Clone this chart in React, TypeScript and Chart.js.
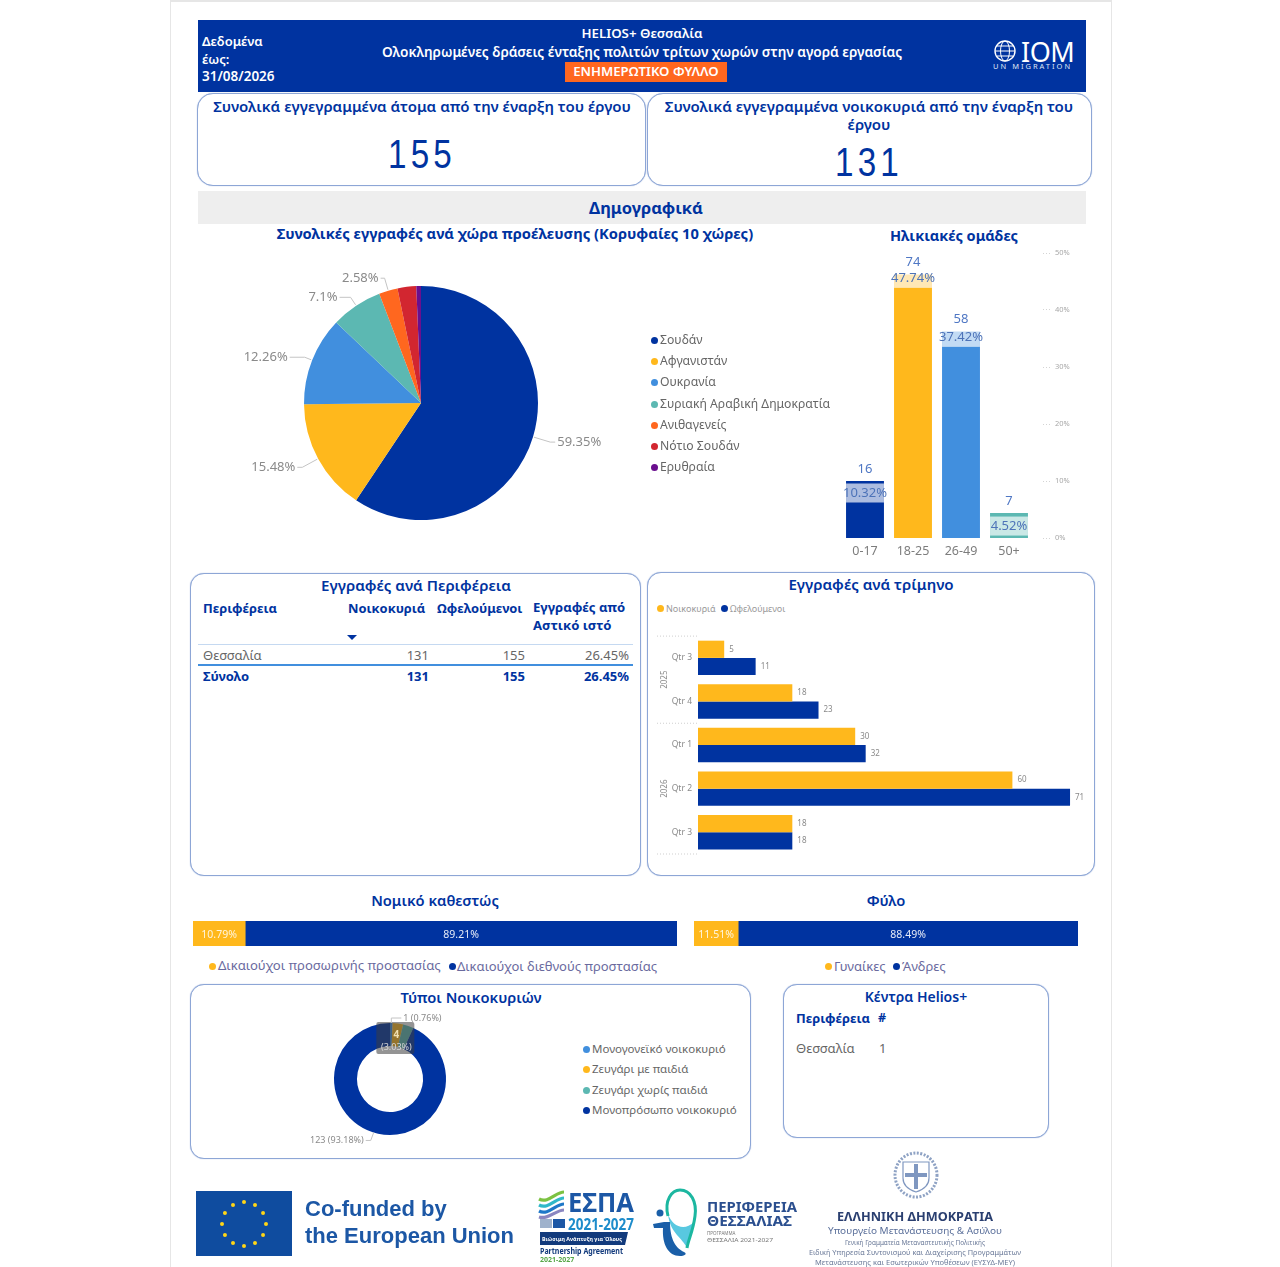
import React, { useEffect, useRef } from "react";
import { Chart, registerables } from "chart.js";
Chart.register(...registerables);

const NAVY = "#0033a0";
const YELLOW = "#ffb81c";
const BLUE = "#418fde";
const TEAL = "#5cb8b2";
const ORANGE = "#ff671f";
const FONT = '"Noto Sans", "Open Sans", sans-serif';

// ---- data ----
const countries = ["Σουδάν", "Αφγανιστάν", "Ουκρανία", "Συριακή Αραβική Δημοκρατία", "Ανιθαγενείς", "Νότιο Σουδάν", "Ερυθραία"];
const countryCounts = [92, 24, 19, 11, 4, 4, 1];
const countryLabels = ["59.35%", "15.48%", "12.26%", "7.1%", "2.58%", "", ""];
const countryColors = [NAVY, YELLOW, BLUE, TEAL, ORANGE, "#d22630", "#6a0f8e"];

const ageGroups = ["0-17", "18-25", "26-49", "50+"];
const ageCounts = [16, 74, 58, 7];
const agePercents = ["10.32%", "47.74%", "37.42%", "4.52%"];
const ageColors = [NAVY, YELLOW, BLUE, TEAL];

const quarters = ["Qtr 3", "Qtr 4", "Qtr 1", "Qtr 2", "Qtr 3"];
const households = [5, 18, 30, 60, 18];
const beneficiaries = [11, 23, 32, 71, 18];
const yearGroups = [
  { year: "2025", from: 0, to: 1 },
  { year: "2026", from: 2, to: 4 },
];

const legalNames = ["Δικαιούχοι προσωρινής προστασίας", "Δικαιούχοι διεθνούς προστασίας"];
const legalValues = [10.79, 89.21];
const genderNames = ["Γυναίκες", "Άνδρες"];
const genderValues = [11.51, 88.49];

const householdTypes = ["Μονογονεϊκό νοικοκυριό", "Ζευγάρι με παιδιά", "Ζευγάρι χωρίς παιδιά", "Μονοπρόσωπο νοικοκυριό"];
const householdTypeCounts = [1, 4, 4, 123];
const householdTypeColors = [BLUE, YELLOW, TEAL, NAVY];

const regionRow = ["Θεσσαλία", "131", "155", "26.45%"];
const totalRow = ["Σύνολο", "131", "155", "26.45%"];

// ---- plugins ----
const PIE_ELBOW = [18, 18, 8, 10, 13];
const PIE_RUN = [5, 5, 15, 11, 4];
const pieLabels = {
  id: "pieLabels",
  afterDraw(chart: any) {
    const { ctx } = chart;
    const arcs = chart.getDatasetMeta(0).data;
    ctx.save();
    ctx.font = `13px ${FONT}`;
    ctx.textBaseline = "middle";
    arcs.forEach((a: any, i: number) => {
      const txt = countryLabels[i];
      if (!txt) return;
      const mid = (a.startAngle + a.endAngle) / 2;
      const cos = Math.cos(mid), sin = Math.sin(mid);
      const r1 = a.outerRadius + 1, r2 = a.outerRadius + PIE_ELBOW[i];
      const x2 = a.x + cos * r2, y2 = a.y + sin * r2;
      const right = cos > 0;
      const x3 = x2 + (right ? PIE_RUN[i] : -PIE_RUN[i]);
      ctx.strokeStyle = "#c4c4c4";
      ctx.lineWidth = 1;
      ctx.beginPath();
      ctx.moveTo(a.x + cos * r1, a.y + sin * r1);
      ctx.lineTo(x2, y2);
      ctx.lineTo(x3, y2);
      ctx.stroke();
      ctx.fillStyle = "#8a8a8a";
      ctx.textAlign = right ? "left" : "right";
      ctx.fillText(txt, x3 + (right ? 2 : -2), y2);
    });
    ctx.restore();
  },
};

const PCT_OFFSET = [12, 4, 6, 13];
const ageLabels = {
  id: "ageLabels",
  afterDatasetsDraw(chart: any) {
    const { ctx } = chart;
    ctx.save();
    ctx.textAlign = "center";
    ctx.textBaseline = "middle";
    chart.getDatasetMeta(0).data.forEach((b: any, i: number) => {
      const cy = b.y + PCT_OFFSET[i];
      const w = b.width;
      ctx.fillStyle = "rgba(255,255,255,0.68)";
      ctx.fillRect(b.x - w / 2, cy - 9.5, w, 19);
      ctx.font = `13px ${FONT}`;
      ctx.fillStyle = "#4d73b8";
      ctx.fillText(agePercents[i], b.x, cy);
      ctx.fillStyle = "#4f77c4";
      ctx.fillText(String(ageCounts[i]), b.x, b.y - 12);
    });
    ctx.restore();
  },
};

const quarterLabels = {
  id: "quarterLabels",
  afterDraw(chart: any) {
    const { ctx, scales } = chart;
    const y = scales.y;
    ctx.save();
    ctx.font = `8px ${FONT}`;
    ctx.textBaseline = "middle";
    ctx.textAlign = "left";
    ctx.fillStyle = "#8a8a8a";
    [0, 1].forEach((d) => {
      const ds = chart.data.datasets[d];
      chart.getDatasetMeta(d).data.forEach((b: any, i: number) => {
        ctx.fillText(String(ds.data[i]), b.x + 5, b.y);
      });
    });
    const half = (y.getPixelForValue(1) - y.getPixelForValue(0)) / 2;
    ctx.strokeStyle = "#cfcfcf";
    ctx.setLineDash([1, 2]);
    const left = chart.chartArea.left;
    const edge = (yy: number) => {
      ctx.beginPath();
      ctx.moveTo(left - 41, yy);
      ctx.lineTo(left, yy);
      ctx.stroke();
    };
    edge(y.getPixelForValue(0) - half);
    yearGroups.forEach((g) => {
      edge(y.getPixelForValue(g.to) + half);
      const cy = (y.getPixelForValue(g.from) + y.getPixelForValue(g.to)) / 2;
      ctx.save();
      ctx.translate(left - 33, cy);
      ctx.rotate(-Math.PI / 2);
      ctx.textAlign = "center";
      ctx.fillStyle = "#8a8a8a";
      ctx.fillText(g.year, 0, 0);
      ctx.restore();
    });
    ctx.restore();
  },
};

const stackLabels = {
  id: "stackLabels",
  afterDatasetsDraw(chart: any) {
    const { ctx } = chart;
    ctx.save();
    ctx.font = `10.5px ${FONT}`;
    ctx.textAlign = "center";
    ctx.textBaseline = "middle";
    chart.data.datasets.forEach((ds: any, d: number) => {
      const b = chart.getDatasetMeta(d).data[0];
      ctx.fillStyle = d === 0 ? "rgba(255,255,255,0.85)" : "#e6ecf7";
      ctx.fillText(ds.data[0].toFixed(2) + "%", (b.base + b.x) / 2, b.y + 1.5);
    });
    ctx.restore();
  },
};

const donutLabels = {
  id: "donutLabels",
  afterDraw(chart: any) {
    const { ctx } = chart;
    const arcs = chart.getDatasetMeta(0).data;
    const total = householdTypeCounts.reduce((a, b) => a + b, 0);
    const pct = (v: number) => ((v / total) * 100).toFixed(2) + "%";
    ctx.save();
    ctx.textBaseline = "middle";
    // dark label over the two small slices
    const a = arcs[1];
    const mid = (a.startAngle + a.endAngle) / 2;
    const rr = (a.innerRadius + a.outerRadius) / 2;
    const cx = a.x + Math.cos(mid) * rr;
    const cy = a.y + Math.sin(mid) * rr;
    ctx.save();
    ctx.beginPath();
    ctx.roundRect(cx - 20, cy - 13, 38, 32, 2);
    ctx.fillStyle = "rgba(60,60,60,0.55)";
    ctx.fill();
    ctx.restore();
    ctx.textAlign = "center";
    ctx.font = `bold 10px ${FONT}`;
    ctx.fillStyle = "#f0e0b0";
    ctx.fillText(String(householdTypeCounts[1]), cx, cy);
    ctx.font = `9px ${FONT}`;
    ctx.fillStyle = "#d8d8d8";
    ctx.fillText(`(${pct(householdTypeCounts[1])})`, cx, cy + 13);
    // outside labels
    ctx.font = `9px ${FONT}`;
    ctx.fillStyle = "#8a8a8a";
    ctx.strokeStyle = "#c4c4c4";
    const first = arcs[0];
    const fm = (first.startAngle + first.endAngle) / 2;
    const fx = first.x + Math.cos(fm) * first.outerRadius;
    const fy = first.y + Math.sin(fm) * first.outerRadius;
    ctx.beginPath();
    ctx.moveTo(fx, fy);
    ctx.lineTo(fx, fy - 5);
    ctx.lineTo(fx + 10, fy - 5);
    ctx.stroke();
    ctx.textAlign = "left";
    ctx.fillText(`${householdTypeCounts[0]} (${pct(householdTypeCounts[0])})`, fx + 12, fy - 5);
    const last = arcs[3];
    const lm = last.startAngle + (last.endAngle - last.startAngle) * 0.54;
    const lx = last.x + Math.cos(lm) * last.outerRadius;
    const ly = last.y + Math.sin(lm) * last.outerRadius;
    ctx.beginPath();
    ctx.moveTo(lx + 8, ly + 3);
    ctx.lineTo(lx + 5, ly + 11);
    ctx.lineTo(lx, ly + 11);
    ctx.stroke();
    ctx.textAlign = "right";
    ctx.fillText(`${householdTypeCounts[3]} (${pct(householdTypeCounts[3])})`, lx - 2, ly + 11);
    ctx.restore();
  },
};

// ---- chart configs ----
const base = { responsive: false, animation: false as const, devicePixelRatio: 1 };
const quiet = { legend: { display: false }, tooltip: { enabled: false }, title: { display: false } };

const pieConfig = {
  type: "pie",
  data: { labels: countries, datasets: [{ data: countryCounts, backgroundColor: countryColors, borderWidth: 0 }] },
  options: { ...base, plugins: quiet, layout: { padding: { top: 41, bottom: 41 } } },
  plugins: [pieLabels],
};

const ageConfig = {
  type: "bar",
  data: {
    labels: ageGroups,
    datasets: [{ data: ageCounts, backgroundColor: ageColors, barPercentage: 0.79, categoryPercentage: 1, yAxisID: "y" }],
  },
  options: {
    ...base,
    plugins: quiet,
    layout: { padding: { left: 6, top: 8, right: 0, bottom: 0 } },
    scales: {
      x: {
        grid: { display: false, drawTicks: false },
        border: { display: false },
        ticks: { color: "#7d7d7d", font: { size: 12.5, family: FONT }, padding: 6, maxRotation: 0 },
        afterFit(s: any) { s.height = 27; },
      },
      y: { display: false, min: 0, max: 80 },
      pct: {
        position: "right",
        min: 0,
        max: 50,
        border: { display: false },
        grid: { drawOnChartArea: false, drawTicks: true, tickLength: 20, tickColor: "#d4d4d4", tickBorderDash: [0, 10, 1, 2, 1, 2, 1, 50] },
        ticks: { stepSize: 10, padding: 2, color: "#a8a8a8", font: { size: 7.5, family: FONT }, callback: (v: any) => v + "%" },
        afterFit(s: any) { s.width = 52; },
      },
    },
  },
  plugins: [ageLabels],
};

const quarterConfig = {
  type: "bar",
  data: {
    labels: quarters,
    datasets: [
      { label: "Νοικοκυριά", data: households, backgroundColor: YELLOW, barPercentage: 1, categoryPercentage: 0.79 },
      { label: "Ωφελούμενοι", data: beneficiaries, backgroundColor: NAVY, barPercentage: 1, categoryPercentage: 0.79 },
    ],
  },
  options: {
    ...base,
    indexAxis: "y",
    plugins: quiet,
    layout: { padding: { top: 11, bottom: 16, left: 0, right: 0 } },
    scales: {
      x: { display: false, min: 0, max: 75 },
      y: {
        grid: { display: false, drawTicks: false },
        border: { display: false },
        ticks: { color: "#8a8a8a", font: { size: 8.5, family: FONT }, padding: 6 },
        afterFit(s: any) { s.width = 48; },
      },
    },
  },
  plugins: [quarterLabels],
};

const stackConfig = (names: string[], values: number[]) => ({
  type: "bar",
  data: {
    labels: [""],
    datasets: [
      { label: names[0], data: [values[0]], backgroundColor: YELLOW, barPercentage: 1, categoryPercentage: 1 },
      { label: names[1], data: [values[1]], backgroundColor: NAVY, barPercentage: 1, categoryPercentage: 1 },
    ],
  },
  options: {
    ...base,
    indexAxis: "y",
    plugins: quiet,
    scales: { x: { display: false, stacked: true, min: 0, max: 100 }, y: { display: false, stacked: true } },
  },
  plugins: [stackLabels],
});

const donutConfig = {
  type: "doughnut",
  data: { labels: householdTypes, datasets: [{ data: householdTypeCounts, backgroundColor: householdTypeColors, borderWidth: 0 }] },
  options: { ...base, cutout: "59%", plugins: quiet, layout: { padding: { top: 19, bottom: 19 } } },
  plugins: [donutLabels],
};

// ---- small pieces ----
function ChartBox({ x, y, w, h, config }: any) {
  const ref = useRef<HTMLCanvasElement>(null);
  useEffect(() => {
    const c = new Chart(ref.current as any, config);
    return () => c.destroy();
  }, []);
  return <canvas ref={ref} width={w} height={h} style={{ position: "absolute", left: x, top: y, width: w, height: h }} />;
}

function T({ x, y, s = 12, c = "#666", b = false, a = "left", children, ls, ff, w, sx }: any) {
  const tr = (a === "center" ? "translate(-50%,-50%)" : a === "right" ? "translate(-100%,-50%)" : "translate(0,-50%)") + (sx ? ` scaleX(${sx})` : "");
  return (
    <div style={{ position: "absolute", left: x, top: y, transform: tr, fontSize: s, color: c, fontWeight: w || (b ? 700 : 400), whiteSpace: "nowrap", lineHeight: 1, letterSpacing: ls, fontFamily: ff || FONT }}>
      {children}
    </div>
  );
}

function Card({ x, y, w, h, r = 14 }: any) {
  return <div style={{ position: "absolute", left: x, top: y, width: w, height: h, boxSizing: "border-box", border: "1px solid #8da6d6", boxShadow: "0 0 1px #8da6d6", borderRadius: r, background: "#fff" }} />;
}

function Dot({ x, y, c, d = 7 }: any) {
  return <div style={{ position: "absolute", left: x - d / 2, top: y - d / 2, width: d, height: d, borderRadius: "50%", background: c }} />;
}

function Legend({ x, ys, names, colors, s = 12, c = "#666" }: any) {
  return (
    <>
      {names.map((n: string, i: number) => (
        <React.Fragment key={n}>
          <Dot x={x} y={ys[i]} c={colors[i]} />
          <T x={x + 6} y={ys[i]} s={s} c={c}>{n}</T>
        </React.Fragment>
      ))}
    </>
  );
}

function Footer() {
  const stars = Array.from({ length: 12 }, (_, i) => {
    const t = (i * Math.PI) / 6;
    return [244 + Math.sin(t) * 22, 1224 - Math.cos(t) * 22];
  });
  return (
    <svg width={1280} height={1267} style={{ position: "absolute", left: 0, top: 0 }} fontFamily={FONT}>
      <rect x={196} y={1191} width={96} height={65} fill="#0f4c9f" />
      {stars.map(([x, y], i) => <circle key={i} cx={x} cy={y} r={2} fill="#ffd617" />)}
      <g fontFamily='"Liberation Sans", Arial, sans-serif' fontWeight={700} fontSize={22} fill="#1c57a5">
        <text x={305} y={1216}>Co-funded by</text>
        <text x={305} y={1243}>the European Union</text>
      </g>

      <g fill="none" strokeWidth={3.2}>
        <path d="M539 1199 C548 1204 556 1192 564 1192" stroke="#7cc242" />
        <path d="M539 1205 C548 1210 556 1198 564 1198" stroke="#2fb8c8" />
        <path d="M539 1211 C548 1216 556 1204 564 1204" stroke="#1f78c8" />
        <path d="M539 1217 C548 1220 556 1210 564 1210" stroke="#8a86c0" />
      </g>
      <text x={568} y={1212} fontSize={27} fontWeight={700} fill="#1c57a5" textLength={66} lengthAdjust="spacingAndGlyphs">ΕΣΠΑ</text>
      <rect x={540} y={1219} width={12} height={9} fill="#9fb2cc" />
      <rect x={553} y={1219} width={12} height={9} fill="#1c57a5" />
      <text x={568} y={1230} fontSize={16} fontWeight={700} fill="#1d8ccb" textLength={66} lengthAdjust="spacingAndGlyphs">2021-2027</text>
      <path d="M540 1232 H628 L625 1245 H540 Z" fill="#123a7c" />
      <text x={542} y={1241} fontSize={6} fontWeight={700} fill="#fff" textLength={80} lengthAdjust="spacingAndGlyphs">Βιώσιμη Ανάπτυξη για Όλους</text>
      <text x={540} y={1254} fontSize={8} fontWeight={700} fill="#123a7c" textLength={83} lengthAdjust="spacingAndGlyphs">Partnership Agreement</text>
      <text x={540} y={1262} fontSize={7} fontWeight={700} fill="#59a84a">2021-2027</text>

      <path d="M668 1214 C672 1226 684 1232 694 1222 C692 1234 688 1240 686 1246 C680 1236 670 1232 668 1214 Z" fill="#58c8e0" />
      <path d="M668 1216 C664 1200 672 1190 680 1190 C691 1190 697 1202 695 1216 C693 1232 688 1240 687 1248" fill="none" stroke="#1cb7a0" strokeWidth={3} />
      <path d="M664 1222 H670 C670 1240 676 1248 684 1252 C688 1254 684 1256 680 1256 C668 1256 662 1244 663 1228 H654 L653 1224 Z" fill="#1a5fa8" />
      <circle cx={660} cy={1213} r={3.5} fill="#1a5fa8" />
      <g fontWeight={700} fontSize={14.5} fill="#2b4f8f">
        <text x={707} y={1212} textLength={90} lengthAdjust="spacingAndGlyphs">ΠΕΡΙΦΕΡΕΙΑ</text>
        <text x={707} y={1226} textLength={85} lengthAdjust="spacingAndGlyphs">ΘΕΣΣΑΛΙΑΣ</text>
      </g>
      <text x={707} y={1235} fontSize={4.5} fill="#777">ΠΡΟΓΡΑΜΜΑ</text>
      <text x={707} y={1242} fontSize={4.5} fill="#777" textLength={66} lengthAdjust="spacingAndGlyphs">ΘΕΣΣΑΛΙΑ 2021-2027</text>

      <ellipse cx={916} cy={1175} rx={21} ry={22} fill="none" stroke="#8ea2c4" strokeWidth={3} strokeDasharray="2 1.5" />
      <path d="M903 1162 H929 V1178 Q929 1188 916 1192 Q903 1188 903 1178 Z" fill="#fff" stroke="#7f97c0" strokeWidth={1.2} />
      <rect x={914} y={1164} width={4} height={25} fill="#7f97c0" />
      <rect x={905} y={1173} width={22} height={4} fill="#7f97c0" />
      <g textAnchor="middle">
        <text x={915} y={1221} fontSize={12.5} fontWeight={700} fill="#2a3f70" textLength={156} lengthAdjust="spacingAndGlyphs">ΕΛΛΗΝΙΚΗ ΔΗΜΟΚΡΑΤΙΑ</text>
        <text x={915} y={1234} fontSize={9.5} fill="#5a6f9a" textLength={174} lengthAdjust="spacingAndGlyphs">Υπουργείο Μετανάστευσης &amp; Ασύλου</text>
        <text x={915} y={1245} fontSize={7} fill="#6b7a99" textLength={140} lengthAdjust="spacingAndGlyphs">Γενική Γραμματεία Μεταναστευτικής Πολιτικής</text>
        <text x={915} y={1255} fontSize={7} fill="#6b7a99" textLength={212} lengthAdjust="spacingAndGlyphs">Ειδική Υπηρεσία Συντονισμού και Διαχείρισης Προγραμμάτων</text>
        <text x={915} y={1265} fontSize={7} fill="#6b7a99" textLength={200} lengthAdjust="spacingAndGlyphs">Μετανάστευσης και Εσωτερικών Υποθέσεων (ΕΥΣΥΔ-ΜΕΥ)</text>
      </g>
    </svg>
  );
}

const NUM = '"Liberation Sans", sans-serif';

export default function App() {
  return (
    <div style={{ position: "absolute", left: 0, top: 0, width: 1280, height: 1267, background: "#fff", overflow: "hidden", fontFamily: FONT }}>
      <div style={{ position: "absolute", left: 170, top: 0, width: 942, height: 1267, boxSizing: "border-box", borderLeft: "1px solid #e6e6e6", borderRight: "1px solid #e6e6e6", borderTop: "2px solid #e6e6e6" }} />

      {/* header */}
      <div style={{ position: "absolute", left: 198, top: 20, width: 888, height: 72, background: NAVY }} />
      <T x={202} y={41} s={13} w={600} c="#fff">Δεδομένα</T>
      <T x={202} y={59} s={13} w={600} c="#fff">έως:</T>
      <T x={202} y={77} s={13.5} w={600} c="#fff">31/08/2026</T>
      <T x={642} y={33.5} s={13.3} w={600} c="#fff" a="center">HELIOS+ Θεσσαλία</T>
      <T x={642} y={51.5} s={13.65} w={600} c="#fff" a="center">Ολοκληρωμένες δράσεις ένταξης πολιτών τρίτων χωρών στην αγορά εργασίας</T>
      <div style={{ position: "absolute", left: 565, top: 62, width: 162, height: 20, background: ORANGE }} />
      <T x={646} y={71.5} s={13.2} w={600} c="#fff" a="center">ΕΝΗΜΕΡΩΤΙΚΟ ΦΥΛΛΟ</T>
      <svg width={26} height={26} style={{ position: "absolute", left: 992, top: 39 }}>
        <circle cx={13} cy={12} r={10} fill="none" stroke="#fff" strokeWidth={1.4} />
        <ellipse cx={13} cy={12} rx={4.5} ry={10} fill="none" stroke="#fff" strokeWidth={1} />
        <line x1={3} y1={12} x2={23} y2={12} stroke="#fff" />
        <line x1={5} y1={7} x2={21} y2={7} stroke="#fff" />
        <line x1={5} y1={17} x2={21} y2={17} stroke="#fff" />
      </svg>
      <T x={1021} y={51} s={27} c="#fff" ls={-0.5}>IOM</T>
      <T x={993} y={66.5} s={7.5} c="#dfe6f5" ls={2}>UN MIGRATION</T>

      {/* KPI */}
      <Card x={197} y={93} w={449} h={93} r={16} />
      <Card x={647} y={93} w={445} h={93} r={16} />
      <T x={422} y={106} s={15} w={600} c={NAVY} a="center">Συνολικά εγγεγραμμένα άτομα από την έναρξη του έργου</T>
      <T x={869} y={106} s={15} w={600} c={NAVY} a="center">Συνολικά εγγεγραμμένα νοικοκυριά από την έναρξη του</T>
      <T x={869} y={124} s={15} w={600} c={NAVY} a="center">έργου</T>
      <T x={422} y={153.5} s={40} c={NAVY} a="center" ls={5} ff={NUM} sx={0.83}>155</T>
      <T x={869} y={161.5} s={40} c={NAVY} a="center" ls={5} ff={NUM} sx={0.83}>131</T>

      {/* band */}
      <div style={{ position: "absolute", left: 198, top: 191, width: 888, height: 33, background: "#eeeeee" }} />
      <T x={646} y={207.5} s={16.5} b c={NAVY} a="center">Δημογραφικά</T>
      <T x={515} y={232.5} s={14.7} b c={NAVY} a="center">Συνολικές εγγραφές ανά χώρα προέλευσης (Κορυφαίες 10 χώρες)</T>
      <T x={954} y={234.5} s={14.5} b c={NAVY} a="center">Ηλικιακές ομάδες</T>

      <ChartBox x={190} y={245} w={462} h={316} config={pieConfig} />
      <Legend x={654} ys={[340, 361, 382, 404, 425, 446, 467]} names={countries} colors={countryColors} s={12.2} />
      <ChartBox x={835} y={245} w={250} h={320} config={ageConfig} />

      {/* table */}
      <Card x={190} y={573} w={451} h={303} />
      <T x={416} y={586} s={15.1} w={600} c={NAVY} a="center">Εγγραφές ανά Περιφέρεια</T>
      <T x={203} y={608} s={12.9} b c={NAVY}>Περιφέρεια</T>
      <T x={348} y={608} s={12.9} b c={NAVY}>Νοικοκυριά</T>
      <T x={437} y={608} s={12.9} b c={NAVY}>Ωφελούμενοι</T>
      <T x={533} y={608} s={13.1} b c={NAVY}>Εγγραφές από</T>
      <T x={533} y={626} s={13.1} b c={NAVY}>Αστικό ιστό</T>
      <svg width={12} height={6} style={{ position: "absolute", left: 347, top: 635 }}><path d="M0 0 H10 L5 5 Z" fill={NAVY} /></svg>
      <div style={{ position: "absolute", left: 198, top: 644, width: 435, height: 1, background: "#c5d9f1" }} />
      <T x={203} y={655} s={13} c="#666">{regionRow[0]}</T>
      <T x={429} y={655} s={13} c="#666" a="right">{regionRow[1]}</T>
      <T x={525} y={655} s={13} c="#666" a="right">{regionRow[2]}</T>
      <T x={629} y={655} s={13} c="#666" a="right">{regionRow[3]}</T>
      <div style={{ position: "absolute", left: 198, top: 664, width: 435, height: 2, background: BLUE }} />
      <T x={203} y={676} s={13} b c={NAVY}>{totalRow[0]}</T>
      <T x={429} y={676} s={13} b c={NAVY} a="right">{totalRow[1]}</T>
      <T x={525} y={676} s={13} b c={NAVY} a="right">{totalRow[2]}</T>
      <T x={629} y={676} s={13} b c={NAVY} a="right">{totalRow[3]}</T>

      {/* quarters */}
      <Card x={647} y={572} w={448} h={304} />
      <T x={871} y={584.5} s={15.1} w={600} c={NAVY} a="center">Εγγραφές ανά τρίμηνο</T>
      <Legend x={660} ys={[608]} names={["Νοικοκυριά"]} colors={[YELLOW]} s={9} c="#999" />
      <Legend x={724} ys={[608]} names={["Ωφελούμενοι"]} colors={[NAVY]} s={9} c="#999" />
      <ChartBox x={650} y={625} w={441} h={245} config={quarterConfig} />

      {/* stacks */}
      <T x={435} y={900} s={14.7} w={600} c={NAVY} a="center">Νομικό καθεστώς</T>
      <T x={886} y={900} s={14.7} w={600} c={NAVY} a="center">Φύλο</T>
      <ChartBox x={193} y={921} w={484} h={25} config={stackConfig(legalNames, legalValues)} />
      <ChartBox x={694} y={921} w={384} h={25} config={stackConfig(genderNames, genderValues)} />
      <Dot x={212} y={966} c={YELLOW} />
      <T x={218} y={966} s={13.1} c="#6a6a9e">{legalNames[0]}</T>
      <Dot x={452} y={966} c={NAVY} />
      <T x={457} y={966} s={13} c="#6a6a9e">{legalNames[1]}</T>
      <Dot x={828} y={966} c={YELLOW} />
      <T x={834} y={966} s={13} c="#6a6a9e">{genderNames[0]}</T>
      <Dot x={896} y={966} c={NAVY} />
      <T x={902} y={966} s={13} c="#6a6a9e">{genderNames[1]}</T>

      {/* household types */}
      <Card x={190} y={984} w={561} h={175} />
      <T x={471} y={997} s={14.7} w={600} c={NAVY} a="center">Τύποι Νοικοκυριών</T>
      <ChartBox x={290} y={1004} w={200} h={150} config={donutConfig} />
      <Legend x={586} ys={[1049, 1069, 1090, 1110]} names={householdTypes} colors={householdTypeColors} s={11.5} />

      {/* centres */}
      <Card x={783} y={984} w={266} h={154} />
      <T x={916} y={997} s={14} w={600} c={NAVY} a="center">Κέντρα Helios+</T>
      <T x={796} y={1018} s={12.9} b c={NAVY}>Περιφέρεια</T>
      <T x={878} y={1018} s={12.5} b c={NAVY}>#</T>
      <T x={796} y={1048} s={13} c="#666">{regionRow[0]}</T>
      <T x={879} y={1048} s={13} c="#666">1</T>

      <Footer />
    </div>
  );
}
